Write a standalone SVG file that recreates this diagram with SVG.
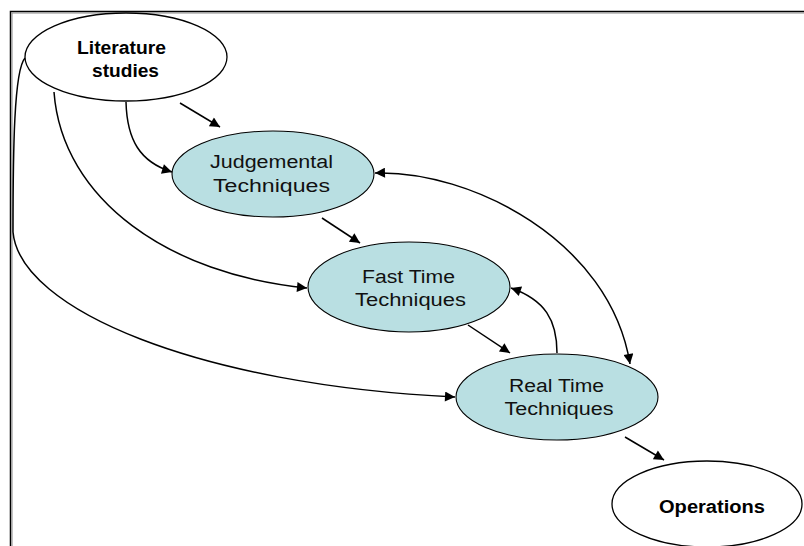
<svg xmlns="http://www.w3.org/2000/svg" width="804" height="546" viewBox="0 0 804 546">
  <style>
    .frame { fill: none; stroke: #000; stroke-width: 1.5; }
    .frame2 { fill: none; stroke: #888; stroke-width: 1; }
    .plain { fill: #fff; stroke: #000; stroke-width: 1.3; }
    .tech { fill: #b9dfe2; stroke: #000; stroke-width: 1.1; }
    .bold { font-family: "Liberation Sans", Arial, sans-serif; font-size: 18px; font-weight: bold; fill: #000; text-anchor: middle; }
    .norm { font-family: "Liberation Sans", Arial, sans-serif; font-size: 18px; fill: #111; text-anchor: middle; }
    .edge { fill: none; stroke: #000; stroke-width: 1.5; }
  </style>
  <defs>
    <marker id="arrow" viewBox="0 0 10 10" refX="10" refY="5" markerWidth="12" markerHeight="10" markerUnits="userSpaceOnUse" orient="auto-start-reverse">
      <path d="M0,0 L10,5 L0,10 z" fill="#000"/>
    </marker>
  </defs>

  <rect width="804" height="546" fill="#fff"/>

  <!-- page frame (top and left edges only) -->
  <path class="frame" d="M10.5,546 V11.5 H804"/>
  <path class="frame2" d="M12,546 V13 H804"/>

  <g id="connectors">
    <path class="edge" marker-end="url(#arrow)" d="M180,103 L220,127"/>
    <path class="edge" marker-end="url(#arrow)" d="M126,102 C127,140 140,162 172,172"/>
    <path class="edge" marker-end="url(#arrow)" d="M54,92 C62,200 170,275 307,288"/>
    <path class="edge" marker-end="url(#arrow)" d="M25,58 C14,70 13,150 13,232 C20,310 200,385 455,397"/>
    <path class="edge" marker-end="url(#arrow)" d="M322,218 L360,243"/>
    <path class="edge" marker-start="url(#arrow)" marker-end="url(#arrow)" d="M375,173 C470,170 610,240 630,364"/>
    <path class="edge" marker-end="url(#arrow)" d="M557,353 C557,320 545,300 511,288"/>
    <path class="edge" marker-end="url(#arrow)" d="M468,325 L510,353"/>
    <path class="edge" marker-end="url(#arrow)" d="M625,437 L664,460"/>
  </g>

  <g id="literature">
    <ellipse class="plain" cx="126" cy="57" rx="101" ry="44"/>
    <text class="bold" x="121.5" y="54" textLength="89" lengthAdjust="spacingAndGlyphs">Literature</text>
    <text class="bold" x="125.5" y="77" textLength="67" lengthAdjust="spacingAndGlyphs">studies</text>
  </g>

  <g id="judgemental">
    <ellipse class="tech" cx="273" cy="174" rx="101" ry="43"/>
    <text class="norm" x="271.5" y="168" textLength="123" lengthAdjust="spacingAndGlyphs">Judgemental</text>
    <text class="norm" x="271.5" y="192" textLength="117" lengthAdjust="spacingAndGlyphs">Techniques</text>
  </g>

  <g id="fasttime">
    <ellipse class="tech" cx="409" cy="287" rx="101" ry="45"/>
    <text class="norm" x="408.5" y="283" textLength="93" lengthAdjust="spacingAndGlyphs">Fast Time</text>
    <text class="norm" x="410.5" y="306" textLength="111" lengthAdjust="spacingAndGlyphs">Techniques</text>
  </g>

  <g id="realtime">
    <ellipse class="tech" cx="557" cy="397" rx="101" ry="43"/>
    <text class="norm" x="556.5" y="392" textLength="95" lengthAdjust="spacingAndGlyphs">Real Time</text>
    <text class="norm" x="559" y="415" textLength="109" lengthAdjust="spacingAndGlyphs">Techniques</text>
  </g>

  <g id="operations">
    <ellipse class="plain" cx="707" cy="504" rx="95" ry="43"/>
    <text class="bold" x="712" y="513" textLength="106" lengthAdjust="spacingAndGlyphs">Operations</text>
  </g>
</svg>
